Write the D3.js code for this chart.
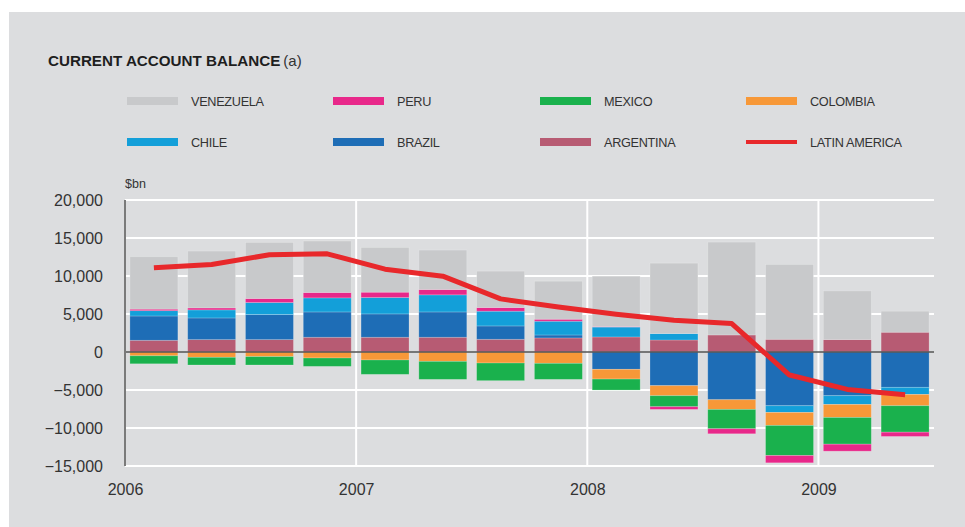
<!DOCTYPE html>
<html>
<head>
<meta charset="utf-8">
<script src="https://cdn.jsdelivr.net/npm/d3@7/dist/d3.min.js"></script>
<style>
  html, body { margin: 0; padding: 0; background: #ffffff; }
  svg { display: block; font-family: "Liberation Sans", Arial, sans-serif; }
</style>
</head>
<body>
<svg id="chart" width="965" height="527"></svg>
<script>
// ---- data ($bn, quarterly) ----
const quarters = ["2006Q1","2006Q2","2006Q3","2006Q4","2007Q1","2007Q2","2007Q3","2007Q4",
                  "2008Q1","2008Q2","2008Q3","2008Q4","2009Q1","2009Q2"];
const argentina = [1540, 1630, 1630, 1940, 1940, 1940, 1670, 1850, 1980, 1580, 2240, 1670, 1630, 2600];
const brazil    = [3200, 2850, 3300, 3330, 3070, 3330, 1760, 390, -2280, -4430, -6280, -7070, -5750, -4650];
const chile     = [700, 1060, 1580, 1850, 2160, 2250, 1940, 1810, 1300, 840, 0, -880, -1150, -930];
const colombia  = [-500, -700, -610, -790, -1050, -1230, -1450, -1490, -1280, -1320, -1270, -1710, -1710, -1490];
const mexico    = [-1050, -1010, -1100, -1100, -1890, -2370, -2320, -2110, -1450, -1450, -2550, -3960, -3520, -3480];
const peru      = [200, 260, 530, 710, 700, 700, 480, 260, 70, -350, -660, -960, -920, -560];
const venezuela = [6900, 7480, 7380, 6770, 5890, 5190, 4790, 5010, 6630, 9270, 12220, 9850, 6410, 2770];
const latinAmerica = [11070, 11520, 12790, 12920, 10900, 9980, 6990, 5930, 4970, 4180, 3740, -3030, -4920, -5620];

const yTicks = [-15000, -10000, -5000, 0, 5000, 10000, 15000, 20000];
const xYears = [2006, 2007, 2008, 2009];

const seriesKeys = ["ARGENTINA","BRAZIL","CHILE","COLOMBIA","MEXICO","PERU","VENEZUELA"];
const seriesData = { ARGENTINA: argentina, BRAZIL: brazil, CHILE: chile, COLOMBIA: colombia,
                     MEXICO: mexico, PERU: peru, VENEZUELA: venezuela };
const colors = { VENEZUELA: "#c8c9cb", PERU: "#e8288a", MEXICO: "#1ab14d", COLOMBIA: "#f79838",
                 CHILE: "#139fd9", BRAZIL: "#1e6db6", ARGENTINA: "#b75b73", "LATIN AMERICA": "#e8282b" };
const legendOrder = [["VENEZUELA","PERU","MEXICO","COLOMBIA"],["CHILE","BRAZIL","ARGENTINA","LATIN AMERICA"]];

(function () {
// ---- layout ----
const svg = d3.select("#chart");
const pLeft = 125, pRight = 934, pTop = 200, pBottom = 466;

svg.append("rect").attr("x", 9).attr("y", 12).attr("width", 956).attr("height", 515).attr("fill", "#dcdddf");

const title = svg.append("text").attr("x", 48).attr("y", 65.5).attr("fill", "#1e1e1e");
title.append("tspan").style("font-size", "15.2px").style("font-weight", "bold").text("CURRENT ACCOUNT BALANCE");
title.append("tspan").style("font-size", "15px").attr("fill", "#333").attr("dx", 3).text("(a)");

// legend
const legX = [127, 333, 540, 746], legY = [101, 142];
legendOrder.forEach((row, r) => row.forEach((name, c) => {
  const g = svg.append("g");
  if (name === "LATIN AMERICA") {
    g.append("line").attr("x1", legX[c]).attr("x2", legX[c] + 51).attr("y1", legY[r]).attr("y2", legY[r])
      .attr("stroke", colors[name]).attr("stroke-width", 4);
  } else {
    g.append("rect").attr("x", legX[c]).attr("y", legY[r] - 4).attr("width", 51).attr("height", 8)
      .attr("fill", colors[name]);
  }
  g.append("text").attr("x", legX[c] + 64).attr("y", legY[r] + 4.5).attr("fill", "#333")
    .style("font-size", "12.7px").style("letter-spacing", "-0.3px").text(name);
}));

// scales
const y = d3.scaleLinear().domain([-15000, 20000]).range([pBottom, pTop]);
const xT = d3.scaleLinear().domain([2006, 2009.5]).range([pLeft, pRight]);
const xB = d3.scaleBand().domain(quarters).range([pLeft, pRight]).paddingInner(0.17).paddingOuter(0.085);

// grid
svg.append("g").selectAll("line").data(yTicks.filter(t => t !== 0)).join("line")
  .attr("x1", pLeft).attr("x2", pRight).attr("y1", d => y(d)).attr("y2", d => y(d))
  .attr("stroke", "#ffffff").attr("stroke-width", 2);
svg.append("g").selectAll("line").data(xYears.slice(1)).join("line")
  .attr("x1", d => xT(d)).attr("x2", d => xT(d)).attr("y1", pTop).attr("y2", pBottom)
  .attr("stroke", "#ffffff").attr("stroke-width", 2);

// y axis labels
const yAxis = d3.axisLeft(y).tickValues(yTicks).tickSize(0).tickPadding(22).tickFormat(d3.format(","));
const ya = svg.append("g").attr("transform", `translate(${pLeft},0)`).call(yAxis);
ya.select(".domain").remove();
ya.selectAll("text").attr("fill", "#333").style("font-size", "16px")
  .style("font-family", "'Liberation Sans', Arial, sans-serif").attr("dy", "0.36em");

// x axis labels
const xAxis = d3.axisBottom(xT).tickValues(xYears).tickSize(0).tickPadding(0).tickFormat(d3.format("d"));
const xa = svg.append("g").attr("transform", `translate(0,${pBottom})`).call(xAxis);
xa.select(".domain").remove();
xa.selectAll("text").attr("fill", "#333").style("font-size", "16px")
  .style("font-family", "'Liberation Sans', Arial, sans-serif").attr("y", 29).attr("dy", 0);

svg.append("text").attr("x", 125).attr("y", 188).attr("fill", "#333").style("font-size", "12.5px").text("$bn");

// stacked bars
const table = quarters.map((q, i) => {
  const o = { q };
  seriesKeys.forEach(k => { o[k] = seriesData[k][i]; });
  return o;
});
const stack = d3.stack().keys(seriesKeys).offset(d3.stackOffsetDiverging);
const layers = stack(table);
svg.append("g").selectAll("g").data(layers).join("g")
  .attr("fill", d => colors[d.key])
  .selectAll("rect").data(d => d.filter(p => p[1] !== p[0])).join("rect")
  .attr("x", d => xB(d.data.q)).attr("width", xB.bandwidth())
  .attr("y", d => y(Math.max(d[0], d[1])))
  .attr("height", d => Math.abs(y(d[0]) - y(d[1])))
  .attr("stroke", "rgba(255,255,255,0.25)").attr("stroke-width", 0.8);

// zero line and y axis line
svg.append("line").attr("x1", pLeft).attr("x2", pRight).attr("y1", y(0)).attr("y2", y(0))
  .attr("stroke", "#555").attr("stroke-width", 1.5);
svg.append("line").attr("x1", pLeft).attr("x2", pLeft).attr("y1", pTop).attr("y2", pBottom)
  .attr("stroke", "#7a7a7a").attr("stroke-width", 2);

// line
const line = d3.line().x((d, i) => xB(quarters[i]) + xB.bandwidth() / 2).y(d => y(d));
svg.append("path").datum(latinAmerica).attr("d", line).attr("fill", "none")
  .attr("stroke", colors["LATIN AMERICA"]).attr("stroke-width", 5).attr("stroke-linejoin", "round");
})();
</script>
</body>
</html>
